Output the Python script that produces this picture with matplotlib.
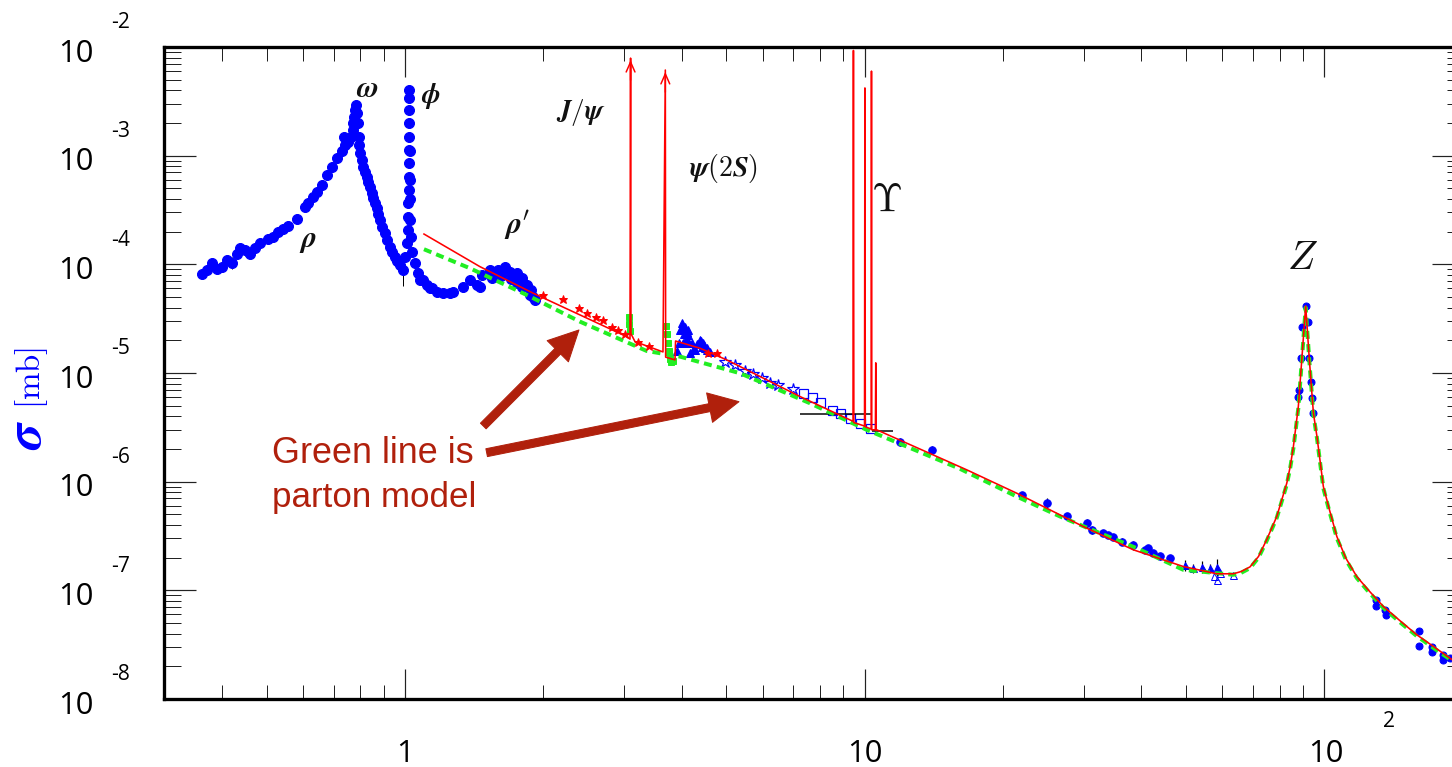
import numpy as np
import matplotlib
matplotlib.use("Agg")
import matplotlib.pyplot as plt
from matplotlib.ticker import LogLocator, NullFormatter

plt.rcParams['mathtext.fontset'] = 'cm'

# ---------------- data (sqrt(s) in GeV, sigma in mb) ----------------
# rho / omega region, blue data
rho_x = [0.361, 0.370, 0.3797, 0.389, 0.399, 0.409, 0.4196, 0.430, 0.4374, 0.4485,
         0.460, 0.4716, 0.4836, 0.504, 0.5167, 0.530, 0.5435, 0.557, 0.581, 0.606,
         0.616, 0.6318, 0.6426, 0.6588, 0.6755, 0.6925, 0.7101, 0.728, 0.7366, 0.740,
         0.7527, 0.7618, 0.7695, 0.7717, 0.7745, 0.7783, 0.7822, 0.7873, 0.7901, 0.7929,
         0.7953, 0.798, 0.805, 0.811, 0.818, 0.8254, 0.832, 0.8392, 0.8463, 0.853,
         0.8605, 0.868, 0.8748, 0.882, 0.8925, 0.9048, 0.9152, 0.9276, 0.9384, 0.951,
         0.9621, 0.975, 0.9886]
rho_y = [8.16e-5, 8.88e-5, 1.023e-4, 9.01e-5, 9.52e-5, 1.098e-4, 1.037e-4, 1.246e-4, 1.406e-4, 1.357e-4,
         1.239e-4, 1.406e-4, 1.584e-4, 1.702e-4, 1.798e-4, 1.974e-4, 2.103e-4, 2.255e-4, 2.616e-4, 3.396e-4,
         3.648e-4, 4.196e-4, 4.665e-4, 5.376e-4, 6.645e-4, 7.92e-4, 9.46e-4, 1.105e-3, 1.476e-3, 1.254e-3,
         1.345e-3, 1.496e-3, 1.723e-3, 1.986e-3, 2.285e-3, 2.633e-3, 2.926e-3, 2.455e-3, 1.986e-3, 1.496e-3,
         1.254e-3, 1.052e-3, 9.13e-4, 7.92e-4, 7.12e-4, 6.41e-4, 5.77e-4, 5.19e-4, 4.57e-4, 4.06e-4,
         3.65e-4, 3.28e-4, 2.91e-4, 2.56e-4, 2.22e-4, 1.93e-4, 1.677e-4, 1.455e-4, 1.309e-4, 1.177e-4,
         1.075e-4, 9.87e-5, 8.88e-5]

# phi region, blue data
phi_x = [1.0, 1.0085, 1.0137, 1.0167, 1.0167, 1.0188, 1.0188, 1.0202, 1.0202, 1.0202,
         1.0202, 1.0202, 1.0202, 1.0202, 1.0235, 1.0235, 1.0245, 1.0254, 1.029, 1.0373,
         1.0514, 1.0688, 1.078, 1.0927, 1.115, 1.1334, 1.143, 1.172]
phi_y = [1.177e-4, 1.563e-4, 2.07e-4, 2.747e-4, 3.648e-4, 4.835e-4, 6.41e-4, 8.51e-4, 1.128e-3, 1.496e-3,
         1.986e-3, 2.633e-3, 3.37e-3, 4.02e-3, 1.1e-3, 6.0e-4, 4.0e-4, 2.56e-4, 1.798e-4, 1.309e-4,
         1.023e-4, 8.28e-5, 7.19e-5, 7.19e-5, 6.46e-5, 6.03e-5, 6.03e-5, 5.61e-5]

# rho' region, blue data
rhop_x = [1.2115, 1.253, 1.274, 1.339, 1.385, 1.432, 1.456, 1.469, 1.531, 1.55, 1.596,
          1.62, 1.651, 1.692, 1.70, 1.750, 1.750, 1.795, 1.80, 1.840, 1.871, 1.88, 1.90, 1.9187]
rhop_y = [5.42e-5, 5.42e-5, 5.61e-5, 6.23e-5, 7.19e-5, 6.46e-5, 6.23e-5, 7.99e-5, 8.88e-5, 7.5e-5, 8.88e-5,
          7.8e-5, 9.52e-5, 8.56e-5, 7.3e-5, 8.28e-5, 6.70e-5, 7.45e-5, 6.2e-5, 6.46e-5, 5.23e-5, 5.8e-5, 5.0e-5, 4.70e-5]

# charm threshold region, blue data
charm_x = [3.90, 3.95, 3.967, 4.00, 4.002, 4.03, 4.035, 4.05, 4.069, 4.08, 4.10, 4.12, 4.137, 4.15,
           4.17, 4.207, 4.25, 4.277, 4.33, 4.385, 4.40, 4.42, 4.459, 4.48, 4.50, 4.535, 4.55, 4.62]
charm_y = [1.6e-5, 1.9e-5, 2.49e-5, 2.6e-5, 2.87e-5, 2.5e-5, 1.88e-5, 2.3e-5, 2.67e-5, 2.0e-5, 2.4e-5, 2.5e-5,
           2.24e-5, 1.9e-5, 1.52e-5, 1.88e-5, 1.7e-5, 1.63e-5, 1.85e-5, 2.02e-5, 1.95e-5, 1.75e-5, 1.88e-5,
           1.8e-5, 1.7e-5, 1.63e-5, 1.7e-5, 1.55e-5]

# open blue stars and squares (5 - 10 GeV)
star_x = [4.97, 5.23, 5.50, 5.73, 5.975, 6.23, 6.49, 7.00]
star_y = [1.273e-5, 1.187e-5, 1.052e-5, 9.74e-6, 8.95e-6, 8.05e-6, 7.77e-6, 7.10e-6]
square_x = [7.36, 7.68, 8.00, 8.49, 8.85, 9.30, 9.78, 10.28]
square_y = [6.52e-6, 5.99e-6, 5.46e-6, 4.575e-6, 4.27e-6, 3.84e-6, 3.45e-6, 3.10e-6]

# wide-bin black measurements
wide_x = [8.66, 10.94]
wide_xlo = [7.24, 10.37]
wide_xhi = [10.37, 11.55]
wide_y = [4.21e-6, 2.93e-6]

# higher energy blue data with errors
high_x = [11.95, 14.01, 21.98, 24.92, 27.54, 30.45, 31.22, 33.08, 33.92, 34.78,
          36.28, 38.34, 40.77, 41.46, 42.51, 43.97, 46.22]
high_y = [2.34e-6, 1.96e-6, 7.57e-7, 6.34e-7, 4.85e-7, 4.15e-7, 3.60e-7, 3.36e-7, 3.24e-7, 3.09e-7,
          2.81e-7, 2.62e-7, 2.36e-7, 2.44e-7, 2.20e-7, 2.05e-7, 1.98e-7]
high_err = [2.0e-7, 1.5e-7, 5.0e-8, 7.0e-8, 3.5e-8, 4.0e-8, 3.0e-8, 2.0e-8, 2.0e-8, 2.0e-8,
            2.0e-8, 2.5e-8, 1.5e-8, 1.5e-8, 1.5e-8, 1.5e-8, 1.5e-8]
tri_x = [49.84, 51.95, 54.18, 56.48, 58.4]
tri_y = [1.716e-7, 1.60e-7, 1.656e-7, 1.60e-7, 1.656e-7]
tri_err = [2.0e-8, 1.5e-8, 2.0e-8, 1.5e-8, 3.0e-8]
otri_x = [57.5, 58.4, 59.38, 63.5]
otri_y = [1.35e-7, 1.249e-7, 1.44e-7, 1.39e-7]

# Z region blue data
z_x = [87.9, 88.4, 89.3, 89.43, 91.2, 92.45, 92.9, 93.6, 94.3, 94.8,
       129.8, 129.8, 135.8, 136.4, 160.8, 160.8, 171.6, 171.6, 181.8, 181.8, 188.1]
z_y = [6.07e-6, 6.99e-6, 1.368e-5, 2.67e-5, 4.14e-5, 2.97e-5, 1.368e-5, 8.34e-6, 5.86e-6, 4.27e-6,
       8.18e-8, 7.10e-8, 6.61e-8, 5.95e-8, 4.18e-8, 3.08e-8, 3.04e-8, 2.70e-8, 2.55e-8, 2.29e-8, 2.38e-8]

# error bars on a few low-energy points
lowerr_x = [0.4196, 0.4374, 0.4485, 0.4836, 0.9886]
lowerr_y = [1.037e-4, 1.406e-4, 1.357e-4, 1.584e-4, 8.88e-5]
lowerr_e = [1.3e-5, 1.8e-5, 1.6e-5, 1.7e-5, 2.6e-5]

# red stars
rstar_x = [2.0, 2.21, 2.395, 2.493, 2.604, 2.70, 2.818, 2.912, 3.01, 3.22, 3.40, 4.57, 4.77]
rstar_y = [5.23e-5, 4.78e-5, 3.95e-5, 3.55e-5, 3.30e-5, 3.08e-5, 2.67e-5, 2.49e-5, 2.275e-5, 1.945e-5,
           1.775e-5, 1.52e-5, 1.52e-5]

# green data near J/psi and psi(2S)
gdata_x = [3.07, 3.08, 3.09, 3.70, 3.72, 3.74, 3.76, 3.78, 3.80, 3.83]
gdata_y = [3.3e-5, 2.8e-5, 2.45e-5, 2.7e-5, 2.3e-5, 1.9e-5, 1.6e-5, 1.35e-5, 1.25e-5, 1.3e-5]

# red curve (QCD with resonances)
red_x = [1.10, 1.456, 1.902, 3.038, 3.088, 3.097, 3.103, 3.166, 3.643, 3.686,
         3.692, 3.869, 3.88, 4.385, 5.013, 6.13, 7.24, 9.30, 9.44, 9.46,
         9.48, 10.00, 10.02, 10.04, 10.34, 10.355, 10.37, 10.56, 10.58, 10.60,
         10.63, 16.69, 21.44, 29.94, 38.46, 49.4, 58.4, 63.5, 66.0, 69.0,
         72.0, 75.0, 78.9, 80.9, 82.95, 84.4, 85.75, 87.9, 89.43, 91.19,
         92.9, 94.8, 96.5, 99.65, 102.5, 106.6, 111.5, 117.8, 125.0, 134.6,
         147.0, 159.1, 175.0, 189.9, 201.0]
red_y = [1.9e-4, 9.52e-5, 5.42e-5, 2.16e-5, 2.05e-5, 7.9e-3, 2.3e-5, 1.945e-5, 1.563e-5, 6.14e-3,
         1.4e-5, 1.32e-5, 1.97e-5, 1.69e-5, 1.32e-5, 8.64e-6, 6.07e-6, 3.70e-6, 3.6e-6, 9.3e-3,
         3.5e-6, 3.25e-6, 4.2e-3, 3.2e-6, 3.05e-6, 6.0e-3, 3.0e-6, 3.0e-6, 1.24e-5, 2.95e-6,
         3.0e-6, 1.285e-6, 7.83e-7, 3.86e-7, 2.36e-7, 1.656e-7, 1.42e-7, 1.42e-7, 1.49e-7, 1.644e-7,
         2.05e-7, 2.92e-7, 4.78e-7, 6.8e-7, 9.68e-7, 1.377e-6, 2.10e-6, 4.91e-6, 1.32e-5, 4.14e-5,
         1.32e-5, 4.27e-6, 2.60e-6, 9.0e-7, 5.70e-7, 3.13e-7, 1.98e-7, 1.34e-7, 1.0e-7, 7.10e-8,
         5.16e-8, 3.90e-8, 2.94e-8, 2.30e-8, 2.1e-8]

# arrow heads on the off-scale J/psi and psi(2S) peaks
arrowpk_x = [3.097, 3.686]
arrowpk_y = [7.9e-3, 6.14e-3]

# green dashed curve (parton model)
green_x = [1.10, 1.385, 1.840, 2.403, 3.357, 3.967, 5.36, 7.61, 10.11, 16.14,
           21.44, 26.65, 32.54, 39.13, 49.4, 63.5, 66.0, 69.0, 72.0, 75.0,
           78.9, 80.9, 82.95, 84.4, 85.75, 87.9, 89.43, 91.19, 92.9, 94.8,
           96.5, 99.65, 102.5, 106.6, 111.5, 117.8, 125.0, 134.6, 147.0, 159.1,
           175.0, 190.0, 201.0]
green_y = [1.377e-4, 9.2e-5, 5.23e-5, 2.97e-5, 1.596e-5, 1.416e-5, 9.95e-6, 5.27e-6, 3.0e-6, 1.312e-6,
           7.30e-7, 4.78e-7, 3.36e-7, 2.44e-7, 1.545e-7, 1.39e-7, 1.45e-7, 1.60e-7, 2.0e-7, 2.85e-7,
           4.65e-7, 6.6e-7, 9.4e-7, 1.34e-6, 2.03e-6, 4.75e-6, 1.28e-5, 4.0e-5, 1.28e-5, 4.15e-6,
           2.52e-6, 8.7e-7, 5.5e-7, 3.03e-7, 1.92e-7, 1.30e-7, 9.7e-8, 6.9e-8, 5.0e-8, 3.8e-8,
           2.85e-8, 2.25e-8, 2.05e-8]

# axis ticks
ytick_exp = [-8, -7, -6, -5, -4, -3, -2]
xtick_vals = [1, 10, 100]
xtick_base = ['1', '10', '10']
xtick_sup = ['', '', '2']

# labels
res_labels = [r'$\boldsymbol{\omega}$', r'$\boldsymbol{\phi}$', r'$\boldsymbol{\rho}$',
              r"$\boldsymbol{\rho}'$", r'$\boldsymbol{J/\psi}$',
              r'$\boldsymbol{\psi}\mathbf{(2}\boldsymbol{S}\mathbf{)}$',
              r'$\Upsilon$', r'$Z$']
res_pos = [(0.1562, 0.9371), (0.2054, 0.9248), (0.1108, 0.7025), (0.2715, 0.727),
           (0.3208, 0.9003), (0.4300, 0.8144), (0.5554, 0.7653), (0.8754, 0.6764)]
res_size = [30, 28, 30, 30, 27, 28, 40, 40]

BLUE = '#0000ff'
GREEN = '#22ee22'
DARKRED = '#b0200c'

DPI = 72
fig = plt.figure(figsize=(1452 / DPI, 767 / DPI), dpi=DPI)
ax = fig.add_axes([164 / 1452, 68 / 767, 1300 / 1452, 652 / 767])
ax.set_xscale('log')
ax.set_yscale('log')
ax.set_xlim(0.299, 201.6)
ax.set_ylim(1e-8, 1e-2)

# data
ax.errorbar(lowerr_x, lowerr_y, yerr=lowerr_e, fmt='none', ecolor='black', elinewidth=1.0, zorder=1)
for xs, ys in [(rho_x, rho_y), (phi_x, phi_y), (rhop_x, rhop_y)]:
    ax.plot(xs, ys, ls='none', marker='o', ms=10, color=BLUE, mec=BLUE, zorder=2)
ax.plot(charm_x, charm_y, ls='none', marker='^', ms=8, color=BLUE, mec=BLUE, zorder=2)
ax.plot(star_x, star_y, ls='none', marker='*', ms=12, mfc='none', mec=BLUE, mew=1.2, zorder=2)
ax.plot(square_x, square_y, ls='none', marker='s', ms=9, mfc='none', mec=BLUE, mew=1.2, zorder=2)
xlo = np.array(wide_x) - np.array(wide_xlo)
xhi = np.array(wide_xhi) - np.array(wide_x)
ax.errorbar(wide_x, wide_y, xerr=[xlo, xhi], fmt='none', ecolor='black', elinewidth=1.5, zorder=2)
ax.errorbar(high_x, high_y, yerr=high_err, fmt='o', ms=7.5, color=BLUE, mec=BLUE,
            ecolor='black', elinewidth=1.2, zorder=2)
ax.errorbar(tri_x, tri_y, yerr=tri_err, fmt='^', ms=7, color=BLUE, mec=BLUE,
            ecolor='black', elinewidth=1.2, zorder=2)
ax.plot(otri_x, otri_y, ls='none', marker='^', ms=7, mfc='none', mec=BLUE, mew=1.0, zorder=2)
ax.plot(z_x, z_y, ls='none', marker='o', ms=7, color=BLUE, mec=BLUE, zorder=2)
ax.plot(gdata_x, gdata_y, ls='none', marker='s', ms=6, color=GREEN, mec=GREEN, zorder=3)

# curves
ax.plot(green_x, green_y, color=GREEN, lw=4, dashes=(2.0, 1.3), zorder=3)
ax.plot(red_x, red_y, color='#ff0000', lw=1.6, zorder=4)
ax.plot(rstar_x, rstar_y, ls='none', marker='*', ms=9, color='#ff0000', mec='#ff0000', zorder=4)
for px, py in zip(arrowpk_x, arrowpk_y):
    ax.annotate('', xy=(px, py), xytext=(px, py * 0.6),
                arrowprops=dict(arrowstyle='->,head_length=0.5,head_width=0.22',
                                color='#ff0000', lw=1.5, mutation_scale=20), zorder=5)

# axis styling
for s in ax.spines.values():
    s.set_linewidth(3.3)
    s.set_color('black')
ax.xaxis.set_major_locator(LogLocator(base=10, numticks=20))
ax.xaxis.set_minor_locator(LogLocator(base=10, subs=np.arange(2, 10) * 1.0, numticks=20))
ax.yaxis.set_major_locator(LogLocator(base=10, numticks=20))
ax.yaxis.set_minor_locator(LogLocator(base=10, subs=np.arange(2, 10) * 1.0, numticks=20))
ax.xaxis.set_minor_formatter(NullFormatter())
ax.yaxis.set_minor_formatter(NullFormatter())
ax.tick_params(which='both', direction='in', top=True, right=True,
               labelbottom=False, labelleft=False, colors='#222222')
ax.tick_params(axis='x', which='major', length=30, width=1.2)
ax.tick_params(axis='x', which='minor', length=14, width=1.0)
ax.tick_params(axis='y', which='major', length=32, width=1.2)
ax.tick_params(axis='y', which='minor', length=17, width=1.0)

TICKFONT = 'Open Sans'
ytr = ax.get_yaxis_transform()
for k in ytick_exp:
    ax.annotate('10', xy=(0, 10.0 ** k), xycoords=ytr, xytext=(-88, -14.5), textcoords='offset points',
                ha='center', va='baseline', fontsize=31, family=TICKFONT, annotation_clip=False)
    ax.annotate(str(k), xy=(0, 10.0 ** k), xycoords=ytr, xytext=(-53, 18.5), textcoords='offset points',
                ha='left', va='baseline', fontsize=21, family=TICKFONT, annotation_clip=False)
xtr = ax.get_xaxis_transform()
for v, b, s in zip(xtick_vals, xtick_base, xtick_sup):
    ax.annotate(b, xy=(v, 0), xycoords=xtr, xytext=(2 if s else 0, -63), textcoords='offset points',
                ha='center', va='baseline', fontsize=31, family=TICKFONT, annotation_clip=False)
    if s:
        ax.annotate(s, xy=(v, 0), xycoords=xtr, xytext=(59, -28), textcoords='offset points',
                    ha='left', va='baseline', fontsize=21, family=TICKFONT, annotation_clip=False)

# y-axis label
fig.text(27.5 / 1452, 1 - 435 / 767, r'$\boldsymbol{\sigma}$', fontsize=52, rotation=90,
         color=BLUE, ha='center', va='center')
fig.text(31.5 / 1452, 1 - 377.5 / 767, r'$[\mathrm{mb}]$', fontsize=33, rotation=90,
         color=BLUE, ha='center', va='center')

# resonance labels
for lab, (fx, fy), fs in zip(res_labels, res_pos, res_size):
    ax.text(fx, fy, lab, transform=ax.transAxes, fontsize=fs, ha='center', va='center', color='#111111')

# annotation
ax.text(0.0831, 0.3773, 'Green line is', transform=ax.transAxes, fontsize=36, color=DARKRED,
        ha='left', va='center', family='Liberation Sans')
ax.text(0.0831, 0.3098, 'parton model', transform=ax.transAxes, fontsize=35, color=DARKRED,
        ha='left', va='center', family='Liberation Sans')
arrow_tail = [(0.2456, 0.4187), (0.2482, 0.3778)]
arrow_tip = [(0.3192, 0.5660), (0.4423, 0.4560)]
for t, h in zip(arrow_tail, arrow_tip):
    ax.annotate('', xy=h, xycoords='axes fraction', xytext=t, textcoords='axes fraction',
                arrowprops=dict(width=8, headwidth=30, headlength=30, color=DARKRED, shrink=0),
                zorder=6)

fig.savefig('out.png', dpi=DPI)
